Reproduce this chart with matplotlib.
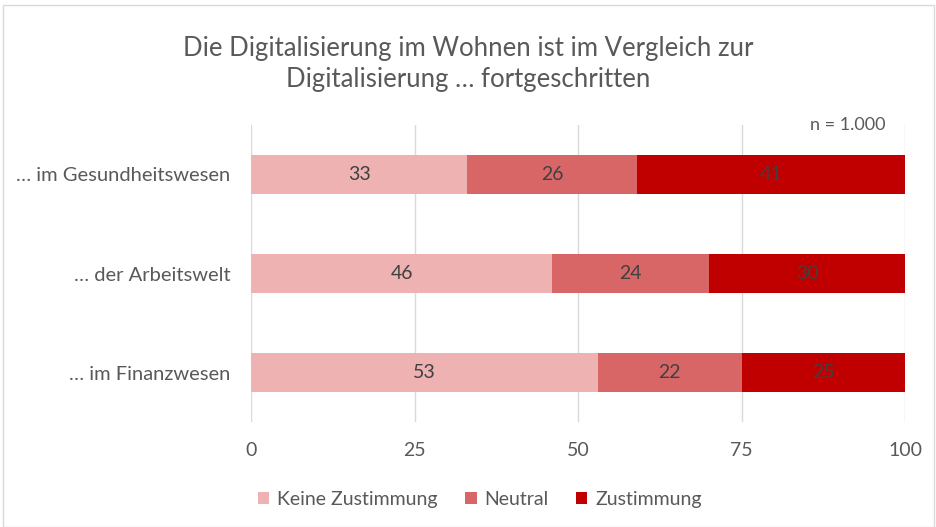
import matplotlib
matplotlib.use("Agg")
import matplotlib.pyplot as plt
from matplotlib.patches import Rectangle

plt.rcParams['font.family'] = ['Lato', 'DejaVu Sans']

categories = ["… im Gesundheitswesen", "… der Arbeitswelt", "… im Finanzwesen"]
series_names = ["Keine Zustimmung", "Neutral", "Zustimmung"]
keine = [33, 46, 53]
neutral = [26, 24, 22]
zustimmung = [41, 30, 25]
xticks = [0, 25, 50, 75, 100]
colors = ["#EDB2B1", "#D96666", "#C00000"]
title = "Die Digitalisierung im Wohnen ist im Vergleich zur\nDigitalisierung … fortgeschritten"

fig = plt.figure(figsize=(9.37, 5.27), dpi=100)
fig.patch.set_facecolor("white")
fig.add_artist(Rectangle((0.003, 0.0), 0.994, 0.99, transform=fig.transFigure,
                         fill=False, edgecolor="#D9D9D9", linewidth=1))
ax = fig.add_axes([0.268, 0.199, 0.698, 0.564])

y = list(range(len(categories)))
left = [0] * len(categories)
for name, vals, c in zip(series_names, [keine, neutral, zustimmung], colors):
    ax.barh(y, vals, left=left, height=0.4, color=c, label=name, zorder=3)
    for yi, l, v in zip(y, left, vals):
        ax.text(l + v / 2, yi, f"{v}", ha="center", va="center",
                fontsize=14, color="#404040", zorder=4)
    left = [a + b for a, b in zip(left, vals)]

ax.set_ylim(2.5, -0.5)
ax.set_xlim(0, 100)
ax.set_xticks(xticks)
ax.set_xticklabels([str(t) for t in xticks], fontsize=14, color="#595959")
ax.set_yticks(y)
ax.set_yticklabels(categories, fontsize=14.5, color="#595959")
ax.tick_params(axis="x", length=0, pad=14)
ax.tick_params(axis="y", length=0, pad=15)
ax.grid(axis="x", color="#D9D9D9", linewidth=1, zorder=0)
for s in ax.spines.values():
    s.set_visible(False)

fig.text(0.5, 0.878, title, ha="center", va="center", fontsize=18.5,
         color="#595959", linespacing=1.3)
ax.text(0.97, 1.0, "n = 1.000", transform=ax.transAxes, ha="right", va="center",
        fontsize=13, color="#595959")

fig.legend(loc="center", bbox_to_anchor=(0.512, 0.053), ncol=3, frameon=False,
           fontsize=14, handlelength=0.6, handleheight=0.6, handletextpad=0.4,
           columnspacing=1.4, labelcolor="#595959")

fig.savefig("out.png", dpi=100)
